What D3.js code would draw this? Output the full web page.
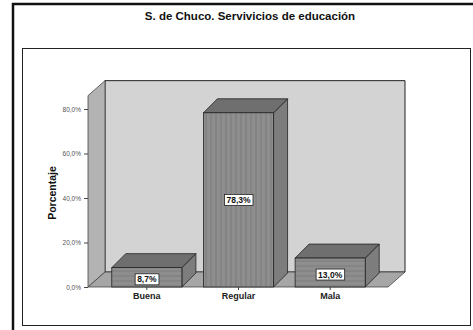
<!DOCTYPE html>
<html>
<head>
<meta charset="utf-8">
<script src="https://cdn.jsdelivr.net/npm/d3@7"></script>
<style>
  html, body { margin: 0; padding: 0; background: #fff; }
  svg { display: block; }
</style>
</head>
<body>
<svg id="chart" width="473" height="330"></svg>
<script>
// Percentages per rating of education services
const categories = ["Buena", "Regular", "Mala"];
const values = [8.7, 78.3, 13.0];
const valueLabels = ["8,7%", "78,3%", "13,0%"];
const tickValues = [0, 20, 40, 60, 80];
const tickLabels = ["0,0%", "20,0%", "40,0%", "60,0%", "80,0%"];
const title = "S. de Chuco. Servivicios de educación";
const yTitle = "Porcentaje";

const svg = d3.select("#chart");

// frames
svg.append("rect").attr("x", 13).attr("y", 4).attr("width", 470).attr("height", 340)
  .attr("fill", "none").attr("stroke", "#111").attr("stroke-width", 2.5);
svg.append("rect").attr("x", 22.5).attr("y", 48.5).attr("width", 448).attr("height", 277)
  .attr("fill", "none").attr("stroke", "#222").attr("stroke-width", 1);

svg.append("text").attr("x", 250).attr("y", 20).attr("text-anchor", "middle")
  .attr("font-family", "Liberation Sans, Arial, sans-serif").attr("font-weight", "bold")
  .attr("font-size", 11.5).attr("fill", "#111").text(title);

// scales
const y = d3.scaleLinear().domain([0, 80]).range([287, 109]);
const x = d3.scaleBand().domain(categories).range([101, 376]).paddingInner(0.235).paddingOuter(0.1175);

const wallDx = 17, wallDy = -15;   // depth of the walls
const barDx = 14, barDy = -14;     // depth of the bars
const x0 = 88, x1 = 388, yTop = y(86);
const base = y(0);

const pts = a => a.map(p => p.join(",")).join(" ");
const g = svg.append("g");

// back wall
g.append("polygon").attr("points", pts([[x0 + wallDx, yTop + wallDy], [x1 + wallDx, yTop + wallDy], [x1 + wallDx, base + wallDy], [x0 + wallDx, base + wallDy]]))
  .attr("fill", "#d3d3d3").attr("stroke", "#222").attr("stroke-width", 1);
// side wall
g.append("polygon").attr("points", pts([[x0, yTop], [x0 + wallDx, yTop + wallDy], [x0 + wallDx, base + wallDy], [x0, base]]))
  .attr("fill", "#b3b3b3").attr("stroke", "#444").attr("stroke-width", 0.8);
// floor
g.append("polygon").attr("points", pts([[x0, base], [x1, base], [x1 + wallDx, base + wallDy], [x0 + wallDx, base + wallDy]]))
  .attr("fill", "#a6a6a6").attr("stroke", "#444").attr("stroke-width", 0.8);

// stripe pattern on the bar faces
const defs = svg.append("defs");
const pv = defs.append("pattern").attr("id", "vstripe").attr("patternUnits", "userSpaceOnUse")
  .attr("width", 5).attr("height", 6);
pv.append("rect").attr("width", 5).attr("height", 6).attr("fill", "#8e8e8e");
pv.append("line").attr("x1", 1).attr("x2", 1).attr("y1", 0).attr("y2", 6).attr("stroke", "#7a7a7a").attr("stroke-width", 1);
const ph = defs.append("pattern").attr("id", "hstripe").attr("patternUnits", "userSpaceOnUse")
  .attr("width", 8).attr("height", 5);
ph.append("rect").attr("width", 8).attr("height", 5).attr("fill", "#8e8e8e");
ph.append("line").attr("x1", 0).attr("x2", 8).attr("y1", 1).attr("y2", 1).attr("stroke", "#7c7c7c").attr("stroke-width", 1);

const data = categories.map((c, i) => ({ c, v: values[i], label: valueLabels[i] }));
const bars = g.selectAll("g.bar").data(data).join("g").attr("class", "bar");

bars.each(function(d) {
  const b = d3.select(this);
  const L = x(d.c), R = x(d.c) + x.bandwidth(), T = y(d.v), B = base;
  // side face
  b.append("polygon").attr("points", pts([[R, T], [R + barDx, T + barDy], [R + barDx, B + barDy], [R, B]]))
    .attr("fill", "#7d7d7d").attr("stroke", "#222").attr("stroke-width", 0.8);
  // top face
  b.append("polygon").attr("points", pts([[L, T], [L + barDx, T + barDy], [R + barDx, T + barDy], [R, T]]))
    .attr("fill", "#6f6f6f").attr("stroke", "#222").attr("stroke-width", 0.8);
  // front face
  b.append("rect").attr("x", L).attr("y", T).attr("width", R - L).attr("height", B - T)
    .attr("fill", d.v > 50 ? "url(#vstripe)" : "url(#hstripe)").attr("stroke", "#222").attr("stroke-width", 0.8);

  // value label
  const cx = (L + R) / 2, cy = (T + B) / 2 + (d.v > 50 ? 0 : 2);
  const t = b.append("text").attr("x", cx).attr("y", cy + 3).attr("text-anchor", "middle")
    .attr("font-family", "Liberation Sans, Arial, sans-serif").attr("font-weight", "bold")
    .attr("font-size", 8.5).attr("fill", "#111").text(d.label);
  const bb = t.node().getBBox();
  b.insert("rect", "text").attr("x", bb.x - 2).attr("y", bb.y - 0.5).attr("width", bb.width + 4).attr("height", bb.height + 1)
    .attr("fill", "#fff").attr("stroke", "#222").attr("stroke-width", 0.8);
});

// y axis
const yAxis = d3.axisLeft(y).tickValues(tickValues).tickSize(4).tickFormat((d, i) => tickLabels[i]);
const ya = svg.append("g").attr("transform", `translate(${x0},0)`).call(yAxis);
ya.select(".domain").remove();
ya.selectAll("line").attr("stroke", "#444");
ya.selectAll("text").attr("font-family", "Liberation Sans, Arial, sans-serif").attr("font-size", 6.5).attr("fill", "#555");

// x axis
const xAxis = d3.axisBottom(x).tickSize(3).tickPadding(3);
const xa = svg.append("g").attr("transform", `translate(0,${base})`).call(xAxis);
xa.select(".domain").remove();
xa.selectAll("line").attr("stroke", "#444");
xa.selectAll("text").attr("font-family", "Liberation Sans, Arial, sans-serif").attr("font-weight", "bold")
  .attr("font-size", 9).attr("fill", "#222");

svg.append("text").attr("transform", "translate(56,193) rotate(-90)").attr("text-anchor", "middle")
  .attr("font-family", "Liberation Sans, Arial, sans-serif").attr("font-weight", "bold")
  .attr("font-size", 10.5).attr("fill", "#111").text(yTitle);
</script>
</body>
</html>
